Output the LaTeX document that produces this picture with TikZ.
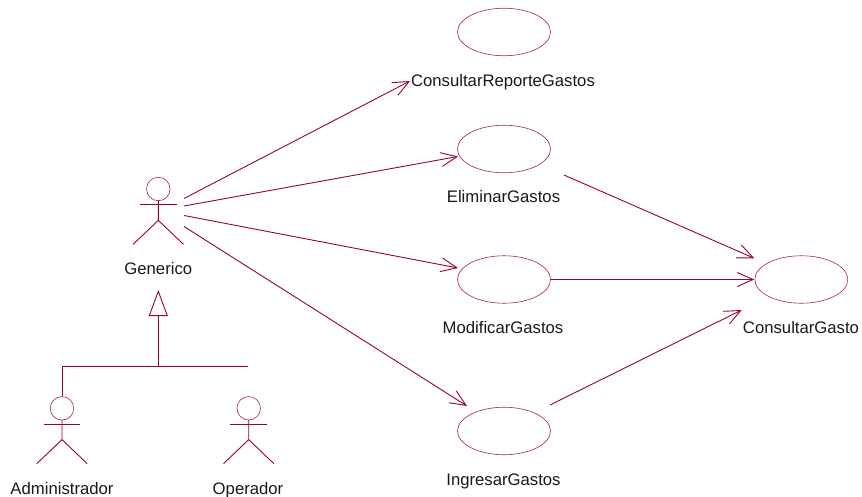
\documentclass[tikz,border=0pt]{standalone}
\usepackage{fontspec}
\setmainfont{Liberation Sans}
\usetikzlibrary{arrows.meta,shapes.geometric}
\definecolor{rose}{HTML}{990033}
\tikzset{
  usecase/.style={draw=rose!85,line width=0.6pt,ellipse,minimum width=93pt,minimum height=47.5pt,inner sep=0pt},
  actorhead/.style={draw=rose!85,line width=0.6pt,circle,minimum size=23.5pt,inner sep=0pt},
  limb/.style={draw=rose,line width=0.9pt},
  txt/.style={anchor=base,text=black!90,inner sep=0pt,font=\fontsize{16.7}{19}\selectfont},
  assoc/.style={draw=rose,line width=0.9pt,-{Straight Barb[length=16pt,width=14pt]}},
  generalize/.style={draw=rose,line width=0.9pt,-{Triangle[open,length=26pt,width=19pt,fill=white]}},
  joint/.style={draw=rose,line width=0.9pt}
}
\newcommand{\stick}[1]{%
  \draw[limb] (#1.north) ++(0,23.5) -- ++(0,19.9) -- ++(-25.2,24);
  \draw[limb] (#1.north) ++(0,43.4) -- ++(25.2,24);
  \draw[limb] (#1.north) ++(-18.4,27.7) -- ++(36.8,0);
}
\begin{document}
\begin{tikzpicture}[x=1pt,y=-1pt]
\useasboundingbox[fill=white] (0,0) rectangle (862,497);
% use cases
\node[usecase] (ucR) at (504,32) {};
\node[usecase] (ucE) at (504,149) {};
\node[usecase] (ucM) at (504,279.5) {};
\node[usecase] (ucI) at (504,431) {};
\node[usecase] (ucC) at (801.3,279.5) {};
% use case labels
\node[txt] (lR) at (503,87) {ConsultarReporteGastos};
\node[txt] (lE) at (503.5,203) {EliminarGastos};
\node[txt] (lM) at (503,333) {ModificarGastos};
\node[txt] (lI) at (503.5,485) {IngresarGastos};
\node[txt] (lC) at (801,333.3) {ConsultarGasto};
% actors
\node[actorhead] (gen) at (158.3,189) {};
\node[actorhead] (adm) at (62,408.3) {};
\node[actorhead] (ope) at (248.7,408.3) {};
\stick{gen}
\stick{adm}
\stick{ope}
\node[txt] (lG) at (158.3,274) {Generico};
\node[txt] (lA) at (62,494) {Administrador};
\node[txt] (lO) at (248,494) {Operador};
% connector ends
\coordinate (g1) at (184,198.5);
\coordinate (g2) at (184,206);
\coordinate (g3) at (184,215.5);
\coordinate (g4) at (184,226.5);
\coordinate (tR) at (410,81);
\coordinate (tE) at (458,156.5);
\coordinate (tM) at (458,268);
\coordinate (tI) at (467,406);
\coordinate (e1) at (564,175);
\coordinate (m1) at (551,279.5);
\coordinate (i1) at (550,405);
\coordinate (t1) at (754.3,258.3);
\coordinate (t2) at (754.3,279.5);
\coordinate (t3) at (741.7,310);
\coordinate (gTip) at (158.3,290);
\coordinate (jn) at (158.3,366.7);
\coordinate (jr) at (247.7,366.7);
% associations
\draw[assoc] (g1) -- (tR);
\draw[assoc] (g2) -- (tE);
\draw[assoc] (g3) -- (tM);
\draw[assoc] (g4) -- (tI);
\draw[assoc] (e1) -- (t1);
\draw[assoc] (m1) -- (t2);
\draw[assoc] (i1) -- (t3);
% generalization
\draw[generalize] (jn) -- (gTip);
\draw[joint] (adm.north) |- (jr);
\end{tikzpicture}
\end{document}
